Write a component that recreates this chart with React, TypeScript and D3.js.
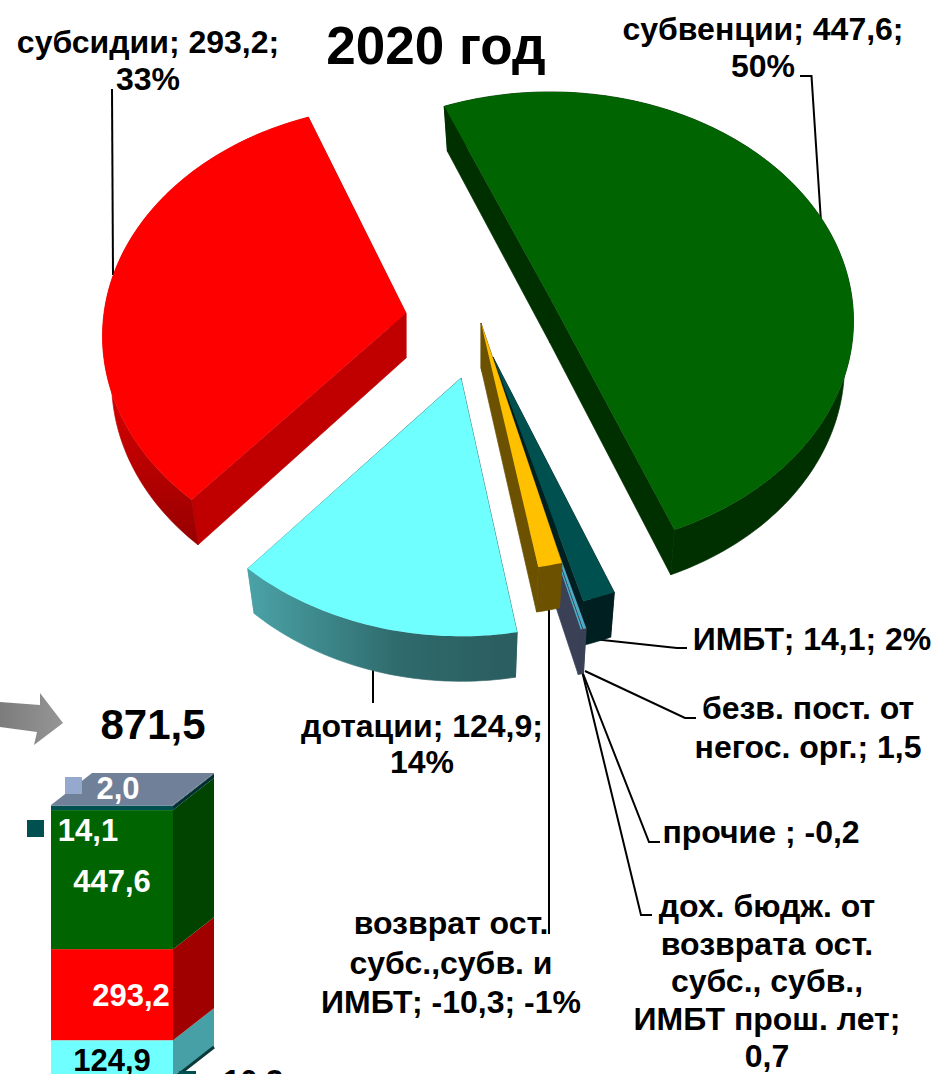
import React from "react";
import * as d3 from "d3";

// pie data, clockwise from the green slice
const sliceNames = ["субвенции", "ИМБТ", "безв", "прочие", "дох", "возврат", "дотации", "субсидии"];
const sliceValues = [447.6, 14.1, 1.5, 0.2, 0.7, 10.3, 124.9, 293.2];

// stacked bar, bottom to top
const barNames = ["дотации", "субсидии", "субвенции", "ИМБТ", "прочее"];
const barValues = [124.9, 293.2, 447.6, 14.1, 2.0];
const barTotal = "871,5";

const W = 933;
const H = 1074;
const font = "'Liberation Sans', Arial, sans-serif";

// layout of the exploded pie
const centers: Record<string, [number, number]> = {
  субвенции: [550, 298],
  ИМБТ: [493, 357],
  безв: [497, 384],
  прочие: [497, 384],
  дох: [497, 384],
  возврат: [481, 323],
  дотации: [461, 378],
  субсидии: [406, 313],
};
// small per-slice fixes: rotation in degrees, vertical radius factor
const turn: Record<string, number> = { субвенции: -1.8, ИМБТ: -1.2, безв: -1, прочие: -1, дох: -1, возврат: -0.5, дотации: -0.3 };
const squash: Record<string, number> = { субвенции: 0.99, возврат: 0.975, дотации: 1.015 };
const topColor: Record<string, string> = {
  субвенции: "#006400",
  ИМБТ: "#00504f",
  безв: "#4bacc6",
  прочие: "#8a5a3a",
  дох: "#4bacc6",
  возврат: "#ffc000",
  дотации: "#6fffff",
  субсидии: "#ff0000",
};
const wallColor: Record<string, string> = {
  субвенции: "#002f00",
  ИМБТ: "#001f20",
  безв: "#3a4156",
  прочие: "#3a4156",
  дох: "#3a4156",
  возврат: "#6c5200",
  дотации: "url(#cyanWall)",
  субсидии: "#c00000",
};
const rimColor: Record<string, string> = { субсидии: "url(#redRim)" };
const drawOrder = ["субвенции", "субсидии", "ИМБТ", "безв", "прочие", "дох", "возврат", "дотации"];

const RX = 302;
const RY = 229;
const PERSP = 0.1;
const DEPTH = 45;

function project(a: number, k: number) {
  const u = Math.sin(a);
  const v = -Math.cos(a);
  const s = 1 / (1 - PERSP * v);
  return [u * RX * s, v * RY * k * s];
}

const toPath = d3.line();

const pieGen = d3
  .pie<number>()
  .value((d) => Math.abs(d))
  .sort(null)
  .startAngle((-20.7 * Math.PI) / 180)
  .endAngle((339.3 * Math.PI) / 180);

const arcs = pieGen(sliceValues);

function Slice({ name }: { name: string }) {
  const arc = arcs[sliceNames.indexOf(name)];
  const [cx, cy] = centers[name];
  const dt = ((turn[name] ?? 0) * Math.PI) / 180;
  const k = squash[name] ?? 1;
  const n = Math.max(2, Math.ceil((arc.endAngle - arc.startAngle) / 0.02));
  const angles = d3.range(n + 1).map((i) => dt + arc.startAngle + ((arc.endAngle - arc.startAngle) * i) / n);
  const rimTop = angles.map((a) => {
    const [x, y] = project(a, k);
    return [cx + x, cy + y] as [number, number];
  });
  const low = (p: [number, number]): [number, number] => [cx + (p[0] - cx) * 0.97, p[1] + DEPTH];
  const apex: [number, number] = [cx, cy];
  const first = rimTop[0];
  const last = rimTop[rimTop.length - 1];
  const wall = wallColor[name];
  const rim = rimColor[name] ?? wall;
  return (
    <g>
      <path d={toPath([apex, first, low(first), low(apex)]) + "Z"} fill={wall} stroke={wall} strokeWidth={0.7} />
      <path d={toPath([apex, last, low(last), low(apex)]) + "Z"} fill={wall} stroke={wall} strokeWidth={0.7} />
      <path d={toPath([...rimTop, ...rimTop.map(low).reverse()]) + "Z"} fill={rim} stroke={rim} strokeWidth={0.7} />
      <path d={toPath([apex, ...rimTop]) + "Z"} fill={topColor[name]} />
    </g>
  );
}

// labels: [centre x, first baseline, line step, lines]
const labels: [number, number, number, string[]][] = [
  [148, 53, 37, ["субсидии; 293,2;", "33%"]],
  [763, 40, 37, ["субвенции; 447,6;", "50%"]],
  [422, 737, 36, ["дотации; 124,9;", "14%"]],
  [812, 650, 38, ["ИМБТ; 14,1; 2%"]],
  [808, 719, 39, ["безв. пост. от", "негос. орг.; 1,5"]],
  [761, 843, 38, ["прочие ; -0,2"]],
  [767, 917, 37.5, ["дох. бюдж. от", "возврата ост.", "субс., субв.,", "ИМБТ прош. лет;", "0,7"]],
  [451, 934, 39.5, ["возврат ост.", "субс.,субв. и", "ИМБТ; -10,3; -1%"]],
];

const leaders: [number, number][][] = [
  [[112, 89], [113, 275]],
  [[800, 76], [811.5, 76], [821, 222]],
  [[373, 703], [373, 668]],
  [[593, 639], [677, 648], [687, 648]],
  [[585, 671], [685, 718], [696, 718]],
  [[582, 671], [649, 842], [660, 842]],
  [[582, 671], [641, 915], [652, 915]],
  [[549, 610], [549, 934]],
];

// bar
const barX = d3.scaleLinear().domain([0, 1]).range([51, 173]);
const barY = d3.scaleLinear().domain([0, 1000]).range([1079, 768.4]);
const barFront = ["#6fffff", "#ff0000", "#006400", "#00504f", "#5a7090"];
const barSide = ["#46a0a6", "#a00000", "#004400", "#003030", "#3a4a60"];
const offX = 41;
const offY = -32;
const stacked = d3.cumsum(barValues);

export default function App() {
  const x0 = barX(0);
  const x1 = barX(1);
  const yTop = barY(stacked[stacked.length - 1]);
  return (
    <svg
      width={W}
      height={H}
      viewBox={`0 0 ${W} ${H}`}
      style={{ position: "absolute", left: 0, top: 0, display: "block", background: "#fff" }}
      fontFamily={font}
      fontWeight="bold"
    >
      <defs>
        <linearGradient id="cyanWall" gradientUnits="userSpaceOnUse" x1="250" y1="0" x2="500" y2="0">
          <stop offset="0" stopColor="#4aa2a6" />
          <stop offset="0.6" stopColor="#2f6a6c" />
          <stop offset="1" stopColor="#2b5e60" />
        </linearGradient>
        <linearGradient id="redRim" gradientUnits="userSpaceOnUse" x1="0" y1="370" x2="0" y2="540">
          <stop offset="0" stopColor="#e00000" />
          <stop offset="1" stopColor="#980000" />
        </linearGradient>
        <linearGradient id="arrowFill" gradientUnits="userSpaceOnUse" x1="0" y1="0" x2="63" y2="0">
          <stop offset="0" stopColor="#7c7c7c" />
          <stop offset="1" stopColor="#969696" />
        </linearGradient>
      </defs>

      {leaders.map((pts, i) => (
        <path key={i} d={toPath(pts) ?? ""} fill="none" stroke="#000" strokeWidth={2} />
      ))}

      {drawOrder.map((name) => (
        <Slice key={name} name={name} />
      ))}

      <text x={436} y={64} fontSize={53} textAnchor="middle">2020 год</text>
      {labels.map(([x, y, step, lines], i) => (
        <text key={i} fontSize={32} textAnchor="middle" fill="#000">
          {lines.map((t, j) => (
            <tspan key={j} x={x} y={y + j * step}>{t}</tspan>
          ))}
        </text>
      ))}

      {/* arrow */}
      <path
        d="M0,702 L40,705 L40,693 L63,723 L34,745 L37,732 L0,727 Z"
        fill="url(#arrowFill)"
      />
      <text x={153} y={739} fontSize={42} textAnchor="middle">{barTotal}</text>

      {/* stacked bar */}
      {barValues.map((v, i) => {
        const yA = barY(i === 0 ? 0 : stacked[i - 1]);
        const yB = barY(stacked[i]);
        return (
          <g key={barNames[i]}>
            <path
              d={toPath([[x1, yB], [x1 + offX, yB + offY], [x1 + offX, yA + offY], [x1, yA]]) + "Z"}
              fill={barSide[i]}
            />
            <rect x={x0} y={yB} width={x1 - x0} height={yA - yB} fill={barFront[i]} />
          </g>
        );
      })}
      <path
        d={toPath([[x0, yTop], [x0 + offX, yTop + offY], [x1 + offX, yTop + offY], [x1, yTop]]) + "Z"}
        fill="#708099"
      />
      <path d={toPath([[x1, barY(0)], [x1 + offX, barY(0) + offY]]) ?? ""} stroke="#0a3a3a" strokeWidth={3} />

      <rect x={65} y={777} width={17} height={17} fill="#95a9cf" />
      <rect x={27} y={820} width={17} height={17} fill="#00504f" />
      <rect x={179} y={1071} width={17} height={17} fill="#00504f" />

      <text fontSize={31} textAnchor="middle" fill="#fff">
        <tspan x={118} y={799}>2,0</tspan>
        <tspan x={88} y={841}>14,1</tspan>
        <tspan x={112} y={892}>447,6</tspan>
        <tspan x={131} y={1006}>293,2</tspan>
      </text>
      <text x={112} y={1071} fontSize={31} textAnchor="middle">124,9</text>
      <text x={248} y={1092} fontSize={31} textAnchor="middle">-10,3</text>
    </svg>
  );
}
